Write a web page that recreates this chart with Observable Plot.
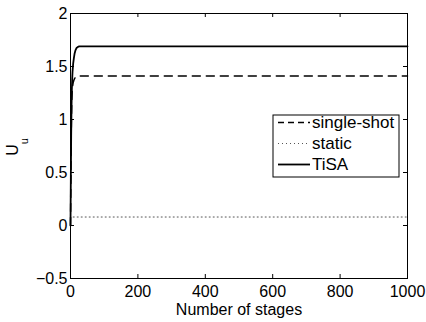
<!DOCTYPE html>
<html>
<head>
<meta charset="utf-8">
<script src="https://cdn.jsdelivr.net/npm/d3@7"></script>
<script src="https://cdn.jsdelivr.net/npm/@observablehq/plot@0.6"></script>
<style>
  html, body { margin: 0; padding: 0; background: #fff; }
  svg { display: block; }
</style>
</head>
<body>
<div id="chart"></div>
<script>
// ---- data ----
const stages       = [0, 1, 2, 3, 4, 5, 6, 8, 10, 12, 15, 18, 22, 26, 30, 40, 1000];
const tisa         = [0, 0.45, 0.85, 1.12, 1.28, 1.38, 1.45, 1.53, 1.58, 1.62, 1.655, 1.675, 1.685, 1.69, 1.69, 1.69, 1.69];
const singleShot   = [0, 0.4, 0.8, 1.05, 1.2, 1.27, 1.31, 1.35, 1.37, 1.385, 1.4, 1.405, 1.41, 1.41, 1.41, 1.41, 1.41];
const staticStages = [8, 1000];
const staticVals   = [0.08, 0.08];
const seriesNames  = ["single-shot", "static", "TiSA"];
const xTicks = [0, 200, 400, 600, 800, 1000];
const yTicks = [-0.5, 0, 0.5, 1, 1.5, 2];
const xLabel = "Number of stages";

// ---- layout ----
const W = 426, H = 322;
const mL = 70, mR = 19, mT = 13, mB = 44;
const innerW = W - mL - mR, innerH = H - mT - mB;
const tickLen = 4;
const font = "'Liberation Sans', Arial, Helvetica, sans-serif";
const fmt = d => (d < 0 ? "\u2212" + Math.abs(d) : String(d));

const tisaData = stages.map((s, i) => ({x: s, y: tisa[i]}));
const ssData = stages.map((s, i) => ({x: s, y: singleShot[i]}));
const stData = staticStages.map((s, i) => ({x: s, y: staticVals[i]}));

const styles = {
  "single-shot": {stroke: "#000", strokeWidth: 1.5, dash: "8,6", legendDash: "6,4"},
  "static": {stroke: "#555", strokeWidth: 1, dash: "1,3", legendDash: "1,3"},
  "TiSA": {stroke: "#000", strokeWidth: 1.8, dash: "none", legendDash: "none"}
};

const plot = Plot.plot({
  width: W, height: H,
  marginLeft: mL, marginRight: mR, marginTop: mT, marginBottom: mB,
  style: {fontFamily: font, fontSize: "16px", color: "#000", background: "#fff"},
  x: {domain: [0, 1000]},
  y: {domain: [-0.5, 2]},
  marks: [
    Plot.lineY(stData, {x: "x", y: "y", stroke: styles["static"].stroke, strokeWidth: 1, strokeDasharray: styles["static"].dash}),
    Plot.lineY(ssData, {x: "x", y: "y", stroke: "#000", strokeWidth: 1.5, strokeDasharray: styles["single-shot"].dash}),
    Plot.lineY(tisaData, {x: "x", y: "y", stroke: "#000", strokeWidth: 1.8}),
    Plot.frame({stroke: "#000", strokeWidth: 1}),
    // inward ticks (bottom, top, left, right)
    Plot.tickX(xTicks, {x: d => d, stroke: "#000", insetTop: innerH - tickLen}),
    Plot.tickX(xTicks, {x: d => d, stroke: "#000", insetBottom: innerH - tickLen}),
    Plot.tickY(yTicks, {y: d => d, stroke: "#000", insetRight: innerW - tickLen}),
    Plot.tickY(yTicks, {y: d => d, stroke: "#000", insetLeft: innerW - tickLen}),
    Plot.axisX(xTicks, {tickSize: 0, tickPadding: 7, fontSize: 16, label: null, tickFormat: fmt}),
    Plot.axisY(yTicks, {tickSize: 0, tickPadding: 3, fontSize: 16, label: null, tickFormat: fmt}),
    Plot.text([xLabel], {frameAnchor: "bottom", dy: 31, fontSize: 16, lineAnchor: "middle"})
  ]
});

document.getElementById("chart").appendChild(plot);

const svg = d3.select(plot);

// y-axis label with subscript
const yl = svg.append("text")
  .attr("transform", "translate(18,147) rotate(-90)")
  .attr("text-anchor", "middle")
  .attr("font-family", font)
  .attr("font-size", 16)
  .attr("fill", "#000");
yl.append("tspan").text("U");
yl.append("tspan").attr("font-size", 11).attr("dy", 10).text("u");

// legend box inside the axes
const lx = 273, ly = 115, lw = 126, lh = 62;
const lg = svg.append("g").attr("text-anchor", "start");
lg.append("rect")
  .attr("x", lx).attr("y", ly).attr("width", lw).attr("height", lh)
  .attr("fill", "#fff").attr("stroke", "#000").attr("stroke-width", 1);
const rowY = [122.5, 143.5, 164.5];
seriesNames.forEach((name, i) => {
  const s = styles[name];
  lg.append("line")
    .attr("x1", lx + 5).attr("x2", lx + 37)
    .attr("y1", rowY[i]).attr("y2", rowY[i])
    .attr("stroke", s.stroke).attr("stroke-width", s.strokeWidth)
    .attr("stroke-dasharray", s.legendDash);
  lg.append("text")
    .attr("x", lx + 39).attr("y", rowY[i]).attr("dy", "0.35em")
    .attr("text-anchor", "start")
    .attr("font-family", font).attr("font-size", 17).attr("fill", "#000")
    .text(name);
});
</script>
</body>
</html>
